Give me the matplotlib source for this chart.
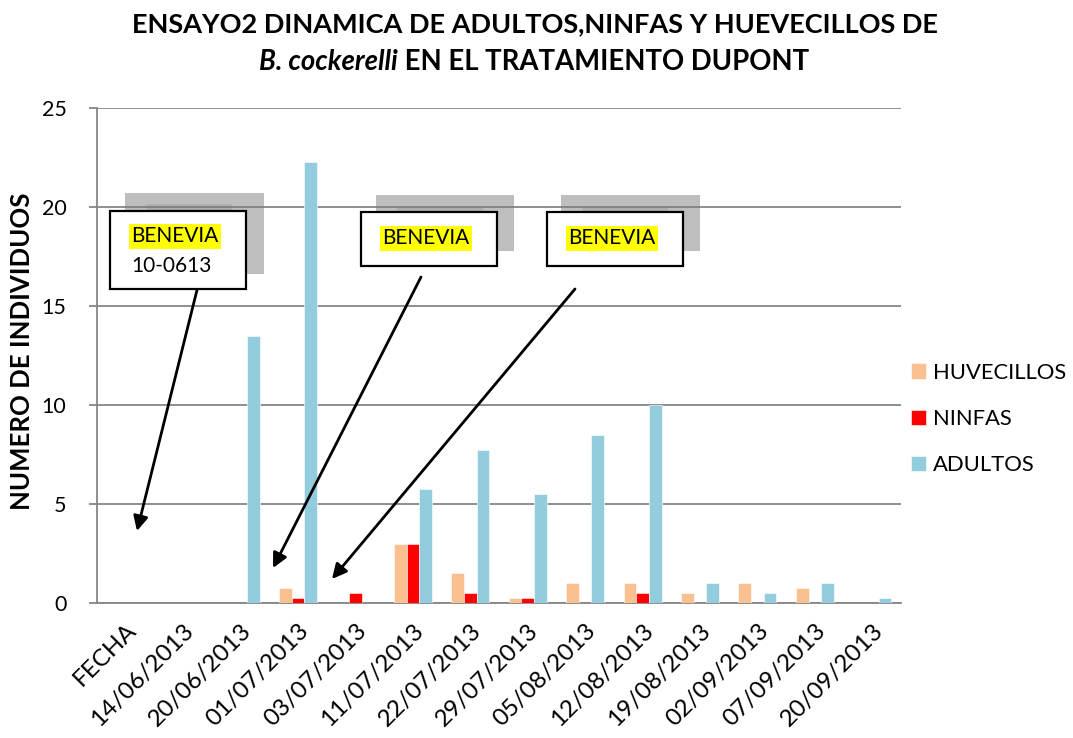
import matplotlib
matplotlib.use("Agg")
import matplotlib.pyplot as plt
from matplotlib.patches import Rectangle, FancyArrowPatch
import numpy as np

categories = ["FECHA", "14/06/2013", "20/06/2013", "01/07/2013", "03/07/2013",
              "11/07/2013", "22/07/2013", "29/07/2013", "05/08/2013", "12/08/2013",
              "19/08/2013", "02/09/2013", "07/09/2013", "20/09/2013"]
huevecillos = [0, 0, 0, 0.75, 0, 3, 1.5, 0.25, 1, 1, 0.5, 1, 0.75, 0]
ninfas      = [0, 0, 0, 0.25, 0.5, 3, 0.5, 0.25, 0, 0.5, 0, 0, 0, 0]
adultos     = [0, 0, 13.5, 22.25, 0, 5.75, 7.75, 5.5, 8.5, 10, 1, 0.5, 1, 0.25]
series_names = ["HUVECILLOS", "NINFAS", "ADULTOS"]
colors = ["#FAC090", "#FF0000", "#93CDDD"]
yticks = [0, 5, 10, 15, 20, 25]

FONT = "Lato"
plt.rcParams["font.family"] = [FONT, "DejaVu Sans"]

W, H = 1073, 738
fig = plt.figure(figsize=(W / 100, H / 100), dpi=100)
ax = fig.add_axes([97 / W, 1 - 603 / H, (901 - 97) / W, (603 - 108) / H])

x = np.arange(len(categories))
bw = 0.22
for k, (vals, name, col) in enumerate(zip([huevecillos, ninfas, adultos], series_names, colors)):
    ax.bar(x + (k - 1) * bw, vals, bw, color=col, label=name, zorder=3,
           edgecolor="white", linewidth=0.4)

ax.set_xlim(-0.5, len(categories) - 0.5)
ax.set_ylim(0, 25)
ax.set_yticks(yticks)
ax.set_yticklabels([str(t) for t in yticks], fontsize=15.5)
ax.yaxis.grid(True, color="#868686", linewidth=1.3, zorder=0)
ax.set_axisbelow(True)
for s in ["top", "right"]:
    ax.spines[s].set_visible(False)
ax.spines["left"].set_color("#868686")
ax.spines["left"].set_linewidth(1.3)
ax.spines["bottom"].set_color("#868686")
ax.spines["bottom"].set_linewidth(1.3)
ax.tick_params(axis="y", length=6, width=1.3, color="#868686", pad=16)
ax.tick_params(axis="x", length=0, pad=12)
ax.set_xticks(x)
ax.set_xticklabels(categories, rotation=45, ha="right", va="top",
                   rotation_mode="anchor", fontsize=17.5)

def fx(px):
    return px / W

def fy(py):
    return 1 - py / H

fig.text(fx(22.5), fy(351), "NUMERO DE INDIVIDUOS", rotation=90, ha="center", va="center",
         fontsize=18.5, fontweight="bold")

leg = ax.legend(loc="upper left", bbox_to_anchor=(902 / W, 1 - 354 / H),
                bbox_transform=fig.transFigure, frameon=False, fontsize=15.8,
                handlelength=0.7, handleheight=0.7, handletextpad=0.3,
                labelspacing=1.2, borderaxespad=0)

# Title
fig.text(fx(535), fy(24), "ENSAYO2 DINAMICA DE ADULTOS,NINFAS Y HUEVECILLOS DE",
         ha="center", va="center", fontsize=19.5, fontweight="bold")
r = fig.canvas.get_renderer()
t1 = fig.text(0, fy(62), "B. cockerelli", ha="left", va="center", fontsize=19.8,
              fontweight="bold", style="italic")
t2 = fig.text(0, fy(62), " EN EL TRATAMIENTO DUPONT", ha="left", va="center",
              fontsize=19.8, fontweight="bold")
w1 = t1.get_window_extent(r).width
w2 = t2.get_window_extent(r).width
start = 534 - (w1 + w2) / 2
t1.set_x(fx(start))
t2.set_x(fx(start + w1))

# Callouts (positions in figure pixels, top-left origin)
def rect_px(x0, y0, x1, y1, **kw):
    p = Rectangle((fx(x0), fy(y1)), fx(x1) - fx(x0), fy(y0) - fy(y1),
                  transform=fig.transFigure, **kw)
    fig.add_artist(p)

callouts = [
    dict(box=(110, 211, 246, 289), shadow=(125, 193, 264, 274), inner=(147, 204, 232),
         text=(131, 236), extra="10-0613", arrow=((197, 290), (137, 531))),
    dict(box=(361, 212, 497, 266), shadow=(376, 195, 514, 251), inner=(397, 207, 483),
         text=(382, 238), extra=None, arrow=((421, 277), (273, 568))),
    dict(box=(547, 212, 683, 266), shadow=(561, 195, 700, 251), inner=(582, 207, 668),
         text=(568, 238), extra=None, arrow=((575, 289), (332, 579))),
]
for c in callouts:
    sx0, sy0, sx1, sy1 = c["shadow"]
    rect_px(sx0, sy0, sx1, sy1, facecolor="#7f7f7f", alpha=0.5, edgecolor="none", zorder=5)
    ix0, iy0, ix1 = c["inner"]
    rect_px(ix0, iy0, ix1, c["box"][1] + 10, facecolor="#7f7f7f", alpha=0.25,
            edgecolor="none", zorder=5)
    bx0, by0, bx1, by1 = c["box"]
    rect_px(bx0, by0, bx1, by1, facecolor="white", edgecolor="black", linewidth=1.6, zorder=6)
    tx, ty = c["text"]
    fig.text(fx(tx), fy(ty), "BENEVIA", ha="left", va="center", fontsize=15, zorder=7,
             bbox=dict(boxstyle="square,pad=0.12", facecolor="#FFFF00", edgecolor="none"))
    if c["extra"]:
        fig.text(fx(tx), fy(ty + 30), c["extra"], ha="left", va="center", fontsize=15, zorder=7)
    (ax0, ay0), (ax1, ay1) = c["arrow"]
    arr = FancyArrowPatch((fx(ax0), fy(ay0)), (fx(ax1), fy(ay1)), transform=fig.transFigure,
                          arrowstyle="-|>", mutation_scale=22, color="black",
                          linewidth=2, zorder=8, shrinkA=0, shrinkB=0)
    fig.add_artist(arr)

fig.savefig("out.png", dpi=100)
